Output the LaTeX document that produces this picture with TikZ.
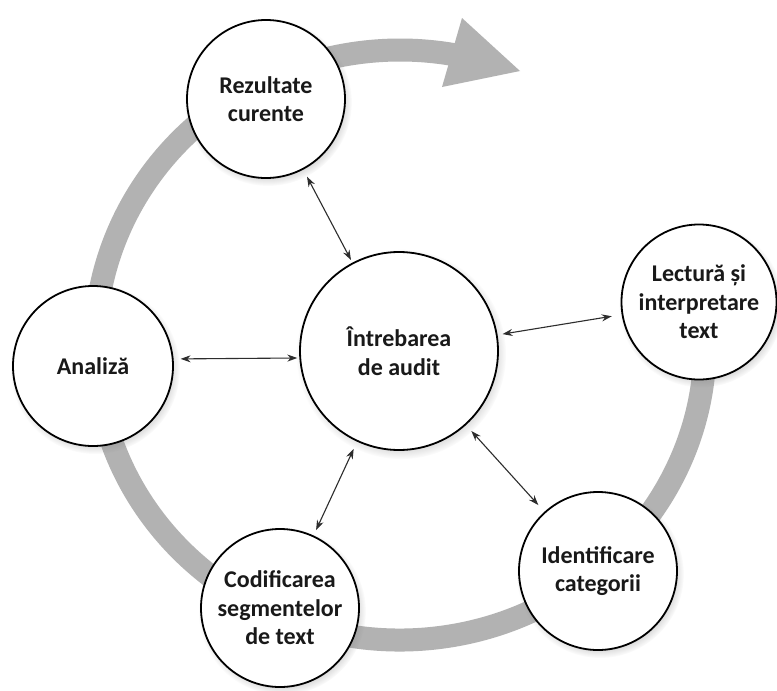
\documentclass[tikz,border=0pt]{standalone}
\usepackage{fontspec}
\setmainfont{Carlito}
\usetikzlibrary{arrows.meta,shadows}
\definecolor{ringgray}{RGB}{178,178,178}
\definecolor{conncol}{RGB}{45,45,45}
\begin{document}
\begin{tikzpicture}[x=1pt,y=-1pt,
  stage/.style={circle, draw=black, line width=1.8pt, fill=white, inner sep=0pt,
    align=center, font=\fontsize{24}{28.5}\selectfont\bfseries, text=black!90,
    circular drop shadow={shadow xshift=2pt, shadow yshift=-3pt, shadow scale=1.06, opacity=0.4}},
  conn/.style={{Stealth[length=10pt,width=7pt]}-{Stealth[length=10pt,width=7pt]},
    line width=1.1pt, draw=conncol},
  ring/.style={line width=23pt, draw=ringgray, fill=none}]
\fill[white] (0,0) rectangle (777,691);
\useasboundingbox (0,0) rectangle (777,691);

% cycle ring
\draw[ring] ([shift={(-8:305 and 295)}]400,345) arc[start angle=-8, end angle=281, x radius=305, y radius=295];
\fill[ringgray] (462,18) -- (520,71) -- (442,87) -- cycle;

% stages
\node[stage, minimum size=198pt] (aud) at (399,351) {Întrebarea\\de audit};
\node[stage, minimum size=160pt] (ana) at (93,366) {Analiză};
\node[stage, minimum size=158pt] (rez) at (266,99) {Rezultate\\curente};
\node[stage, minimum size=155pt] (lec) at (699,302) {Lectură și\\interpretare\\text};
\node[stage, minimum size=158pt] (ide) at (598,571) {Identificare\\categorii};
\node[stage, minimum size=158pt] (cod) at (280,608) {Codificarea\\segmentelor\\de text};

% connectors
\draw[conn, shorten <=8pt, shorten >=3pt] (rez) -- (aud);
\draw[conn, shorten <=7pt, shorten >=2pt] (ana.5) -- (aud.184);
\draw[conn, shorten <=5pt, shorten >=10pt] (aud) -- (lec);
\draw[conn, shorten <=8pt, shorten >=9pt] (aud) -- (ide);
\draw[conn, shorten <=8pt, shorten >=6pt] (aud) -- (cod);
\end{tikzpicture}
\end{document}
